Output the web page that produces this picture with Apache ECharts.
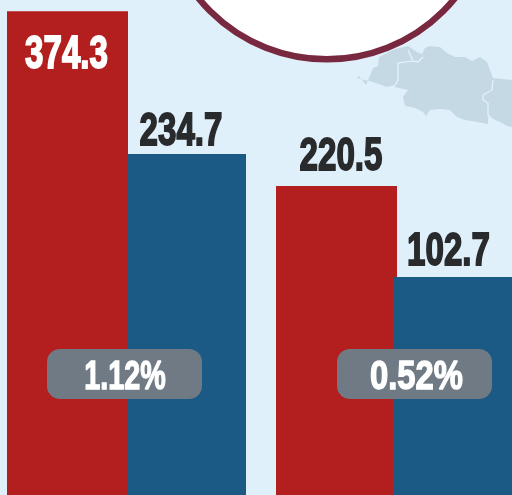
<!DOCTYPE html>
<html>
<head>
<meta charset="utf-8">
<style>
  html, body { margin: 0; padding: 0; background: #dff0fb; }
  #chart { width: 512px; height: 495px; }
</style>
<script src="https://cdn.jsdelivr.net/npm/echarts@6/dist/echarts.min.js"></script>
</head>
<body>
<div id="chart"></div>
<script>
// values printed on the bars, [red, blue] per group
const group1Values = [374.3, 234.7]
const group2Values = [220.5, 102.7]
const pillLabels = ['1.12%', '0.52%']

// the picture does not use one common scale, so each group has its own axis range
const group1Range = [-98.2, 385.2]
const group2Range = [-179.4, 461.4]

const slots = ['red', 'blue']
const slotColors = ['#b31f1f', '#1a5a85']
const slotWidths = [121, 118]
const DARK = '#292a2c'
const FONT = '"Liberation Sans", sans-serif'

// label offset from the bar's centre x and top y
const group1LabelOffsets = [[-1, 44], [-6, -22]]
const group2LabelOffsets = [[4.5, -29], [-4.5, -24.5]]
const group1LabelColors = ['#fff', DARK]
const group2LabelColors = [DARK, DARK]

const chartObj = echarts.init(document.getElementById('chart'))

// bars start at the bottom of the axis, not at zero, so draw them with a custom series
function barRenderer (range, offsets, colors) {
  return function (params, api) {
    const i = api.value(0)
    const value = api.value(1)
    const top = api.coord([i, value])
    const bottom = api.coord([i, range[0]])
    const band = api.size([1, 0])[0]
    const w = slotWidths[i]
    // red sits on the left edge of the group, blue on the right one
    const left = i === 0 ? top[0] - band / 2 : top[0] + band / 2 - w
    return {
      type: 'group',
      children: [
        {
          type: 'rect',
          shape: { x: left, y: top[1], width: w, height: bottom[1] - top[1] },
          style: { fill: slotColors[i] },
          z2: i
        },
        {
          type: 'text',
          x: left + w / 2 + offsets[i][0],
          y: top[1] + offsets[i][1],
          scaleX: 0.72,
          style: {
            text: value.toFixed(1),
            fill: colors[i],
            stroke: colors[i],
            lineWidth: 1.8,
            font: 'bold 46px ' + FONT,
            textAlign: 'center',
            textVerticalAlign: 'middle'
          },
          z2: 10
        }
      ]
    }
  }
}

function pill (x) {
  return {
    type: 'rect',
    shape: { x: x, y: 349, width: 155, height: 50, r: 13 },
    style: { fill: '#6f7a85' },
    z: 20
  }
}

function pillText (x, text, scaleX) {
  return {
    type: 'text',
    x: x,
    y: 378,
    scaleX: scaleX,
    style: {
      text: text,
      fill: '#fff',
      stroke: '#fff',
      lineWidth: 1.4,
      font: 'bold 41px ' + FONT,
      textAlign: 'center',
      textVerticalAlign: 'middle'
    },
    z: 21
  }
}

const option = {
  backgroundColor: '#dff0fb',
  animation: false,
  graphic: [
    {
      type: 'circle',
      shape: { cx: 326.7, cy: -105.7, r: 165 },
      style: { fill: '#fff', stroke: '#78293f', lineWidth: 6.5 },
      z: 1
    },
    // map decoration behind the bars
    {
      type: 'polygon',
      shape: {
        points: [[357, 78], [359, 76], [363, 81], [366, 85], [369, 78], [373, 68], [378, 66], [379, 57], [395, 49], [408, 46], [411, 48], [417, 52], [422, 54], [425, 48], [430, 46], [440, 47], [447, 53], [455, 57], [465, 57], [472, 61], [480, 57], [487, 62], [493, 78], [502, 79], [512, 80], [512, 127], [507, 126], [500, 122], [488, 117], [488, 124], [477, 122], [465, 120], [457, 117], [450, 110], [440, 109], [430, 110], [426, 116], [423, 112], [415, 108], [405, 106], [403, 97], [408, 90], [395, 87], [395, 85], [387, 87], [373, 82]]
      },
      style: { fill: '#c5d9e5' },
      z: 0
    },
    {
      type: 'polyline',
      shape: { points: [[408, 50], [413, 61], [398, 63], [398, 80], [395, 85]] },
      style: { stroke: '#e6f3fb', lineWidth: 1.2, fill: null },
      z: 0
    },
    {
      type: 'polyline',
      shape: { points: [[413, 61], [418, 62], [423, 57]] },
      style: { stroke: '#e6f3fb', lineWidth: 1.2, fill: null },
      z: 0
    },
    {
      type: 'polyline',
      shape: { points: [[493, 80], [492, 90], [483, 95], [483, 100], [488, 103], [488, 115], [493, 120]] },
      style: { stroke: '#e6f3fb', lineWidth: 1.2, fill: null },
      z: 0
    },
    pill(47),
    pill(337),
    pillText(125, pillLabels[0], 0.7),
    pillText(416.5, pillLabels[1], 0.8)
  ],
  grid: [
    { left: 7, top: 0, width: 239, height: 495 },
    { left: 276, top: 0, width: 236, height: 495 }
  ],
  xAxis: [
    { type: 'category', gridIndex: 0, data: slots, show: false },
    { type: 'category', gridIndex: 1, data: slots, show: false }
  ],
  yAxis: [
    { type: 'value', gridIndex: 0, min: group1Range[0], max: group1Range[1], show: false },
    { type: 'value', gridIndex: 1, min: group2Range[0], max: group2Range[1], show: false }
  ],
  series: [
    {
      type: 'custom',
      xAxisIndex: 0,
      yAxisIndex: 0,
      z: 5,
      clip: false,
      renderItem: barRenderer(group1Range, group1LabelOffsets, group1LabelColors),
      encode: { x: 0, y: 1 },
      data: group1Values.map((v, i) => [i, v])
    },
    {
      type: 'custom',
      xAxisIndex: 1,
      yAxisIndex: 1,
      z: 5,
      clip: false,
      renderItem: barRenderer(group2Range, group2LabelOffsets, group2LabelColors),
      encode: { x: 0, y: 1 },
      data: group2Values.map((v, i) => [i, v])
    }
  ]
}
chartObj.setOption(option)
</script>
</body>
</html>
